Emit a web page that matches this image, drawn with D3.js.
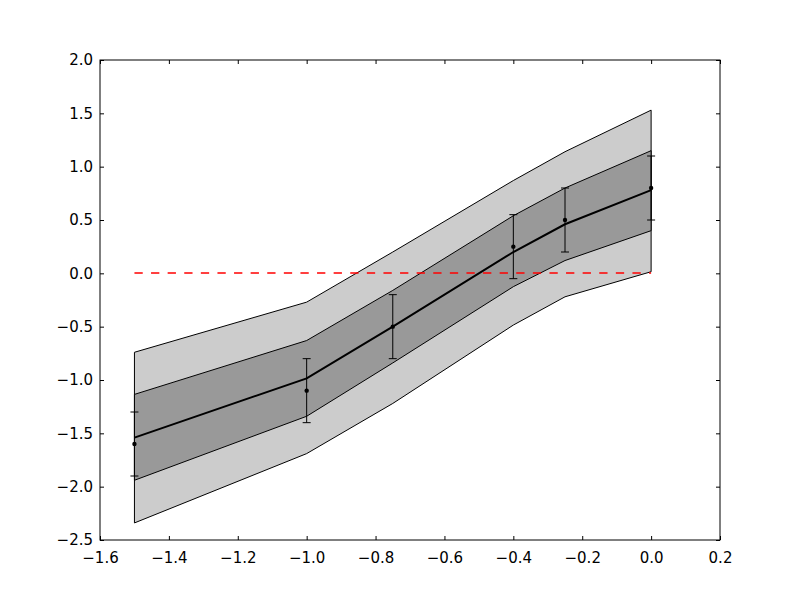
<!DOCTYPE html>
<html>
<head>
<meta charset="utf-8">
<script src="https://cdn.jsdelivr.net/npm/d3@7"></script>
<style>
  body { margin: 0; background: #fff; }
  text { font-family: "DejaVu Sans", sans-serif; }
</style>
</head>
<body>
<div id="chart"></div>
<script>
// data
var xs = [-1.5, -1.0, -0.75, -0.4, -0.25, 0.0];
var meanLine = [-1.54, -0.985, -0.5, 0.2, 0.46, 0.78];
var innerUpper = [-1.135, -0.63, -0.16, 0.54, 0.80, 1.15];
var innerLower = [-1.94, -1.34, -0.84, -0.125, 0.12, 0.40];
var outerUpper = [-0.74, -0.27, 0.20, 0.87, 1.14, 1.53];
var outerLower = [-2.34, -1.69, -1.22, -0.485, -0.22, 0.015];
var obsY = [-1.6, -1.1, -0.5, 0.25, 0.5, 0.8];
var obsErr = [0.3, 0.3, 0.3, 0.3, 0.3, 0.3];
var xTicks = [-1.6, -1.4, -1.2, -1.0, -0.8, -0.6, -0.4, -0.2, 0.0, 0.2];
var yTicks = [-2.5, -2.0, -1.5, -1.0, -0.5, 0.0, 0.5, 1.0, 1.5, 2.0];

var margin = { top: 60, right: 80, bottom: 60, left: 100 },
  width = 800 - margin.left - margin.right,
  height = 600 - margin.top - margin.bottom;

var svg = d3.select("#chart")
  .append("svg")
  .attr("width", 800)
  .attr("height", 600)
  .append("g")
  .attr("transform", "translate(" + margin.left + "," + margin.top + ")");

var x = d3.scaleLinear().domain([-1.6, 0.2]).range([0, width]);
var y = d3.scaleLinear().domain([-2.5, 2.0]).range([height, 0]);

var rows = xs.map(function(d, i) {
  return { x: d, m: meanLine[i], iu: innerUpper[i], il: innerLower[i],
           ou: outerUpper[i], ol: outerLower[i], o: obsY[i], e: obsErr[i] };
});

function band(lo, hi) {
  return d3.area()
    .x(function(d) { return x(d.x); })
    .y0(function(d) { return y(d[lo]); })
    .y1(function(d) { return y(d[hi]); });
}

// outer band
svg.append("path").datum(rows)
  .attr("d", band("ol", "ou"))
  .attr("fill", "#cccccc")
  .attr("stroke", "#000")
  .attr("stroke-width", 1);

// inner band
svg.append("path").datum(rows)
  .attr("d", band("il", "iu"))
  .attr("fill", "#999999")
  .attr("stroke", "#000")
  .attr("stroke-width", 1);

// zero reference
svg.append("line")
  .attr("x1", x(xs[0])).attr("x2", x(xs[xs.length - 1]))
  .attr("y1", Math.floor(y(0))).attr("y2", Math.floor(y(0)))
  .attr("stroke", "#ff0000")
  .attr("stroke-width", 1.5)
  .attr("stroke-dasharray", "8.3,8.3");

// mean line
svg.append("path").datum(rows)
  .attr("d", d3.line().x(function(d) { return x(d.x); }).y(function(d) { return y(d.m); }))
  .attr("fill", "none")
  .attr("stroke", "#000")
  .attr("stroke-width", 2);

// error bars
var eb = svg.selectAll(".eb").data(rows).enter().append("g").attr("class", "eb");
eb.append("line")
  .attr("x1", function(d) { return x(d.x); }).attr("x2", function(d) { return x(d.x); })
  .attr("y1", function(d) { return y(d.o - d.e); }).attr("y2", function(d) { return y(d.o + d.e); })
  .attr("stroke", "#000");
[-1, 1].forEach(function(s) {
  eb.append("line")
    .attr("x1", function(d) { return x(d.x) - 4; }).attr("x2", function(d) { return x(d.x) + 4; })
    .attr("y1", function(d) { return y(d.o + s * d.e); }).attr("y2", function(d) { return y(d.o + s * d.e); })
    .attr("stroke", "#000");
});
eb.append("circle")
  .attr("cx", function(d) { return x(d.x); })
  .attr("cy", function(d) { return y(d.o); })
  .attr("r", 2.2)
  .attr("fill", "#000");

// axes, ticks inward on all sides
var fmt = function(d) { return d3.format(".1f")(d).replace("-", "\u2212"); };
function styleAxis(g) {
  g.select(".domain").remove();
  g.selectAll("line").attr("stroke", "#000");
  g.selectAll("text")
    .style("font-family", "DejaVu Sans")
    .style("font-size", "15px")
    .attr("fill", "#000");
}
svg.append("g").attr("transform", "translate(0," + height + ")")
  .call(d3.axisBottom(x).tickValues(xTicks).tickFormat(fmt).tickSizeInner(-4).tickPadding(12))
  .call(styleAxis);
svg.append("g")
  .call(d3.axisTop(x).tickValues(xTicks).tickFormat("").tickSizeInner(-4))
  .call(styleAxis);
svg.append("g")
  .call(d3.axisLeft(y).tickValues(yTicks).tickFormat(fmt).tickSizeInner(-4).tickPadding(7))
  .call(styleAxis);
svg.append("g").attr("transform", "translate(" + width + ",0)")
  .call(d3.axisRight(y).tickValues(yTicks).tickFormat("").tickSizeInner(-4))
  .call(styleAxis);

svg.append("rect")
  .attr("width", width).attr("height", height)
  .attr("fill", "none").attr("stroke", "#000").attr("stroke-width", 1);
</script>
</body>
</html>
